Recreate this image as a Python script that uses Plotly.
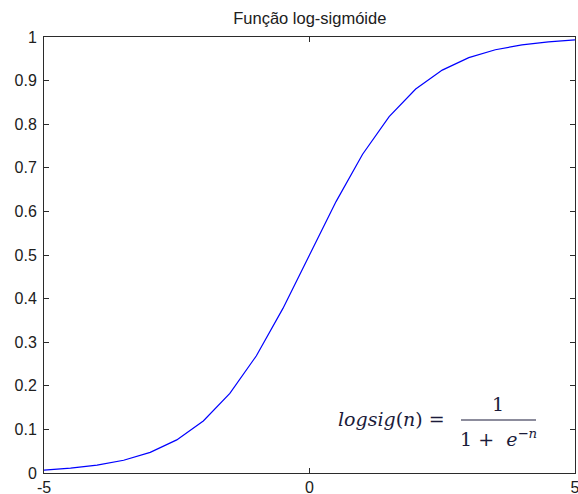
import plotly.graph_objects as go

# Sample points of the log-sigmoid transfer function
n_values = [-5.0, -4.5, -4.0, -3.5, -3.0, -2.5, -2.0, -1.5, -1.0, -0.5, 0.0,
            0.5, 1.0, 1.5, 2.0, 2.5, 3.0, 3.5, 4.0, 4.5, 5.0]
logsig_values = [0.0067, 0.0110, 0.0180, 0.0293, 0.0474, 0.0759, 0.1192, 0.1824,
                 0.2689, 0.3775, 0.5000, 0.6225, 0.7311, 0.8176, 0.8808, 0.9241,
                 0.9526, 0.9707, 0.9820, 0.9890, 0.9933]

x_ticks = [-5, 0, 5]
y_ticks = [0, 0.1, 0.2, 0.3, 0.4, 0.5, 0.6, 0.7, 0.8, 0.9, 1]
y_tick_labels = ["0", "0.1", "0.2", "0.3", "0.4", "0.5", "0.6", "0.7", "0.8", "0.9", "1"]

axis_color = "#2b2b2b"
text_color = "#202020"
formula_color = "#1b1b3a"

fig = go.Figure()
fig.add_trace(go.Scatter(
    x=n_values, y=logsig_values, mode="lines",
    line=dict(color="#0000ff", width=1.2),
    hoverinfo="skip", showlegend=False,
))

axis_common = dict(
    showline=True, linecolor=axis_color, linewidth=1, mirror="ticks",
    ticks="inside", ticklen=5, tickcolor=axis_color, tickwidth=1,
    showgrid=False, zeroline=False, automargin=False, ticklabeloverflow="allow",
    tickfont=dict(family="Liberation Sans, Arial, sans-serif", size=16, color=text_color),
)

fig.update_xaxes(range=[-5, 5], tickvals=x_ticks, ticktext=[str(v) for v in x_ticks],
                 ticklabelstandoff=0, **axis_common)
fig.update_yaxes(range=[0, 1], tickvals=y_ticks, ticktext=y_tick_labels,
                 ticklabelstandoff=3, **axis_common)

fig.update_layout(
    width=578, height=494,
    margin=dict(l=44, r=3, t=37, b=21, autoexpand=False),
    paper_bgcolor="white", plot_bgcolor="white",
    title=dict(text="Função log-sigmóide", x=0.536, xanchor="center",
               y=1 - 18 / 494, yanchor="middle",
               font=dict(family="Liberation Sans, Arial, sans-serif", size=16.5, color=text_color)),
)

# Formula: logsig(n) = 1 / (1 + e^-n), set as text with a fraction bar
formula_font = dict(family="DejaVu Serif, Liberation Serif, serif", size=19, color=formula_color)
fig.add_annotation(xref="paper", yref="paper", x=(447 - 44) / 531, y=(473 - 419) / 436,
                   xanchor="right", yanchor="middle", showarrow=False,
                   text="<i>logsig</i>(<i>n</i>) =", font=formula_font)
fig.add_annotation(xref="paper", yref="paper", x=(498 - 44) / 531, y=(473 - 404) / 436,
                   xanchor="center", yanchor="middle", showarrow=False,
                   text="1", font=formula_font)
fig.add_annotation(xref="paper", yref="paper", x=(498 - 44) / 531, y=(473 - 438) / 436,
                   xanchor="center", yanchor="middle", showarrow=False,
                   text="1 +  <i>e</i><sup>−<i>n</i></sup>", font=formula_font)
fig.add_shape(type="line", xref="paper", yref="paper",
              x0=(461 - 44) / 531, x1=(536 - 44) / 531,
              y0=(473 - 420) / 436, y1=(473 - 420) / 436,
              line=dict(color=formula_color, width=1.2))

fig.write_html("out.html")
